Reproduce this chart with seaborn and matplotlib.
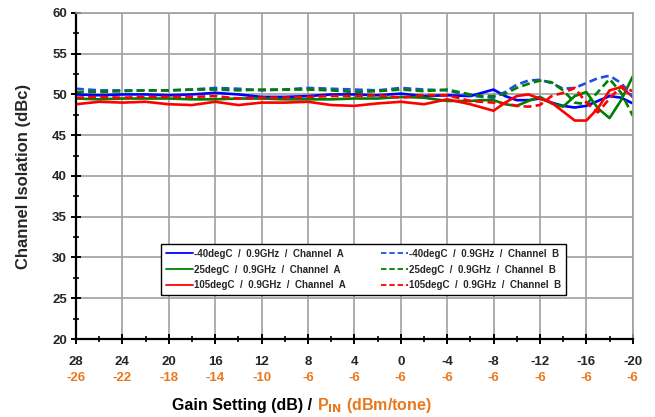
import numpy as np
import pandas as pd
import matplotlib
matplotlib.use("Agg")
import matplotlib.pyplot as plt
import seaborn as sns
from matplotlib.ticker import MultipleLocator

sns.set_style("white")
plt.rcParams['font.family'] = ['Liberation Sans', 'DejaVu Sans']
plt.rcParams['font.weight'] = 'bold'

# gain setting (dB), coarse steps on the flat part, 1 dB steps on the right
gain = [28, 26, 24, 22, 20, 18, 16, 14, 12, 10, 8, 6, 4, 2, 0, -2, -4, -6,
        -7, -8, -9, -10, -11, -12, -13, -14, -15, -16, -17, -18, -19, -20]

iso_m40_a = [50.0, 49.9, 50.0, 50.0, 49.9, 50.0, 50.2, 50.0, 49.7, 49.7, 49.8, 50.0, 50.0, 49.9, 50.1, 49.8, 49.9, 49.8,
             50.2, 50.6, 49.8, 49.3, 49.3, 49.5, 49.0, 48.6, 48.4, 48.6, 49.2, 49.8, 49.6, 48.9]
iso_25_a = [49.5, 49.4, 49.5, 49.5, 49.5, 49.4, 49.4, 49.5, 49.5, 49.4, 49.4, 49.4, 49.5, 49.5, 49.7, 49.6, 49.2, 49.2,
            49.3, 49.3, 48.8, 48.6, 49.2, 49.7, 48.9, 48.5, 49.8, 50.3, 48.3, 47.1, 49.3, 52.2]
iso_105_a = [48.8, 49.1, 49.0, 49.1, 48.8, 48.7, 49.1, 48.7, 49.0, 49.0, 49.1, 48.7, 48.6, 48.9, 49.1, 48.8, 49.4, 48.8,
             48.4, 48.0, 49.0, 49.8, 50.0, 49.5, 49.0, 47.9, 46.8, 46.8, 48.3, 50.5, 50.9, 49.7]
iso_m40_b = [50.7, 50.5, 50.5, 50.5, 50.5, 50.6, 50.8, 50.7, 50.5, 50.6, 50.8, 50.7, 50.6, 50.5, 50.8, 50.6, 50.5, 49.9,
             49.7, 49.6, 50.3, 51.2, 51.7, 51.8, 51.4, 50.7, 50.8, 51.4, 52.0, 52.3, 51.4, 49.7]
iso_25_b = [50.3, 50.3, 50.4, 50.5, 50.5, 50.6, 50.6, 50.5, 50.6, 50.6, 50.6, 50.5, 50.3, 50.4, 50.6, 50.4, 50.6, 50.0,
            49.8, 49.8, 50.1, 50.8, 51.3, 51.7, 51.5, 50.5, 49.0, 48.8, 50.3, 51.9, 50.2, 47.4]
iso_105_b = [49.6, 49.7, 49.6, 49.7, 49.7, 49.7, 49.8, 49.5, 49.6, 49.6, 49.7, 49.8, 49.8, 49.9, 49.6, 49.9, 49.9, 49.2,
             49.1, 49.0, 48.9, 48.6, 48.5, 48.7, 49.8, 50.2, 50.8, 49.0, 47.8, 49.5, 51.0, 50.4]

gain_ticks = [28, 24, 20, 16, 12, 8, 4, 0, -4, -8, -12, -16, -20]
pin_labels = ['-26', '-22', '-18', '-14', '-10', '-6', '-6', '-6', '-6', '-6', '-6', '-6', '-6']

series = [
    ('-40degC  /  0.9GHz  /  Channel  A', iso_m40_a, '#0000FF', '-'),
    ('25degC  /  0.9GHz  /  Channel  A', iso_25_a, '#008000', '-'),
    ('105degC  /  0.9GHz  /  Channel  A', iso_105_a, '#FF0000', '-'),
    ('-40degC  /  0.9GHz  /  Channel  B', iso_m40_b, '#1F4FE0', '--'),
    ('25degC  /  0.9GHz  /  Channel  B', iso_25_b, '#008000', '--'),
    ('105degC  /  0.9GHz  /  Channel  B', iso_105_b, '#FF0000', '--'),
]

orange = '#E8781E'

fig = plt.figure(figsize=(6.55, 4.17), dpi=100)
ax = fig.add_axes([0.116, 0.187, 0.850, 0.782])

for name, vals, col, ls in series:
    df = pd.DataFrame({'gain': gain, 'iso': vals})
    sns.lineplot(data=df, x='gain', y='iso', ax=ax, color=col, linestyle=ls,
                 linewidth=1.9, label=name, sort=False)
for line in ax.lines[3:]:
    line.set_dashes((3, 1.6))

ax.set_xlim(28, -20)
ax.set_ylim(20, 60)
ax.xaxis.set_minor_locator(MultipleLocator(2))
ax.yaxis.set_major_locator(MultipleLocator(5))
ax.yaxis.set_minor_locator(MultipleLocator(2.5))
ax.set_xticks(gain_ticks)
ax.set_xticklabels([str(g) for g in gain_ticks])

ax.grid(True, which='major', color='#A0A0A0', linewidth=1.2)
ax.set_axisbelow(True)
for side in ['top', 'right']:
    ax.spines[side].set_color('#A0A0A0')
    ax.spines[side].set_linewidth(1.2)
for side in ['left', 'bottom']:
    ax.spines[side].set_color('black')
    ax.spines[side].set_linewidth(1.6)

ax.tick_params(axis='both', which='major', direction='inout', length=7, width=1.4,
               labelsize=9.5, color='black')
ax.tick_params(axis='both', which='minor', direction='inout', length=5, width=1.2, color='black')
ax.tick_params(axis='x', which='major', pad=9)
ax.tick_params(axis='y', which='major', pad=3)
ax.tick_params(left=True, bottom=True, which='both')
for t in ax.get_xticklabels() + ax.get_yticklabels():
    t.set_fontweight('bold')

# second row of x labels (input power)
for g, p in zip(gain_ticks, pin_labels):
    ax.text(g, -0.12, p, transform=ax.get_xaxis_transform(), ha='center', va='center',
            fontsize=9.5, fontweight='bold', color=orange)

ax.set_xlabel('')
ax.set_ylabel('Channel Isolation (dBc)', fontsize=12, fontweight='bold', labelpad=15)

fig.text(0.484, 0.027, 'Gain Setting (dB) / ', ha='right', va='center',
         fontsize=11.5, fontweight='bold', color='black')
fig.text(0.484, 0.027, r'P$_{\mathbf{IN}}$ (dBm/tone)', ha='left', va='center',
         fontsize=11.5, fontweight='bold', color=orange)

leg = ax.legend(loc='center', bbox_to_anchor=(0.517, 0.213), ncol=2, fontsize=7,
                frameon=True, fancybox=False, framealpha=1, edgecolor='black',
                handlelength=2.8, handletextpad=0.1, columnspacing=3.6,
                labelspacing=0.6, borderpad=0.5)
leg.get_frame().set_linewidth(1.0)
for t in leg.get_texts():
    t.set_fontweight('bold')
for h in leg.get_lines():
    h.set_linewidth(1.3)

fig.savefig('out.png', dpi=100)
